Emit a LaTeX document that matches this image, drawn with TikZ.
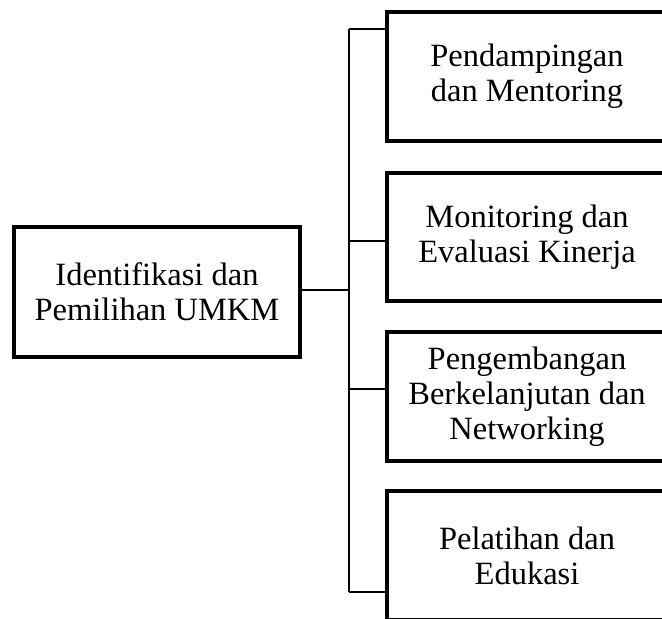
\documentclass[tikz,border=0pt]{standalone}
\usepackage{fontspec}
\setmainfont{Liberation Serif}
\begin{document}
\begin{tikzpicture}[x=1pt,y=-1pt,
  box/.style={draw=black, line width=4pt, align=center, inner sep=0pt,
    font=\fontsize{32.5}{35}\selectfont},
  rbox/.style={box, minimum width=280pt, minimum height=129pt},
  link/.style={draw=black, line width=1.6pt}]
  \clip (0,0) rectangle (662,619);
  \node[box, minimum width=286pt, minimum height=130pt] (a) at (157,292) {Identifikasi dan\\Pemilihan UMKM};
  \node[rbox] (b1) at (527,76.5) {Pendampingan\\dan Mentoring};
  \node[rbox, minimum height=128pt] (b2) at (527,237) {Monitoring dan\\Evaluasi Kinerja};
  \node[rbox] (b3) at (527,396.5) {Pengembangan\\Berkelanjutan dan\\Networking};
  \node[rbox] (b4) at (527,555.5) {Pelatihan dan\\Edukasi};
  \coordinate (v1) at (349,29);
  \coordinate (v2) at (349,241);
  \coordinate (v3) at (349,389);
  \coordinate (v4) at (349,592);
  \coordinate (va) at (349,290);
  \draw[link] (v1) -- (v4);
  \draw[link] (a.east |- va) -- (va);
  \draw[link] (v1) -- (b1.west |- v1);
  \draw[link] (v2) -- (b2.west |- v2);
  \draw[link] (v3) -- (b3.west |- v3);
  \draw[link] (v4) -- (b4.west |- v4);
\end{tikzpicture}
\end{document}
